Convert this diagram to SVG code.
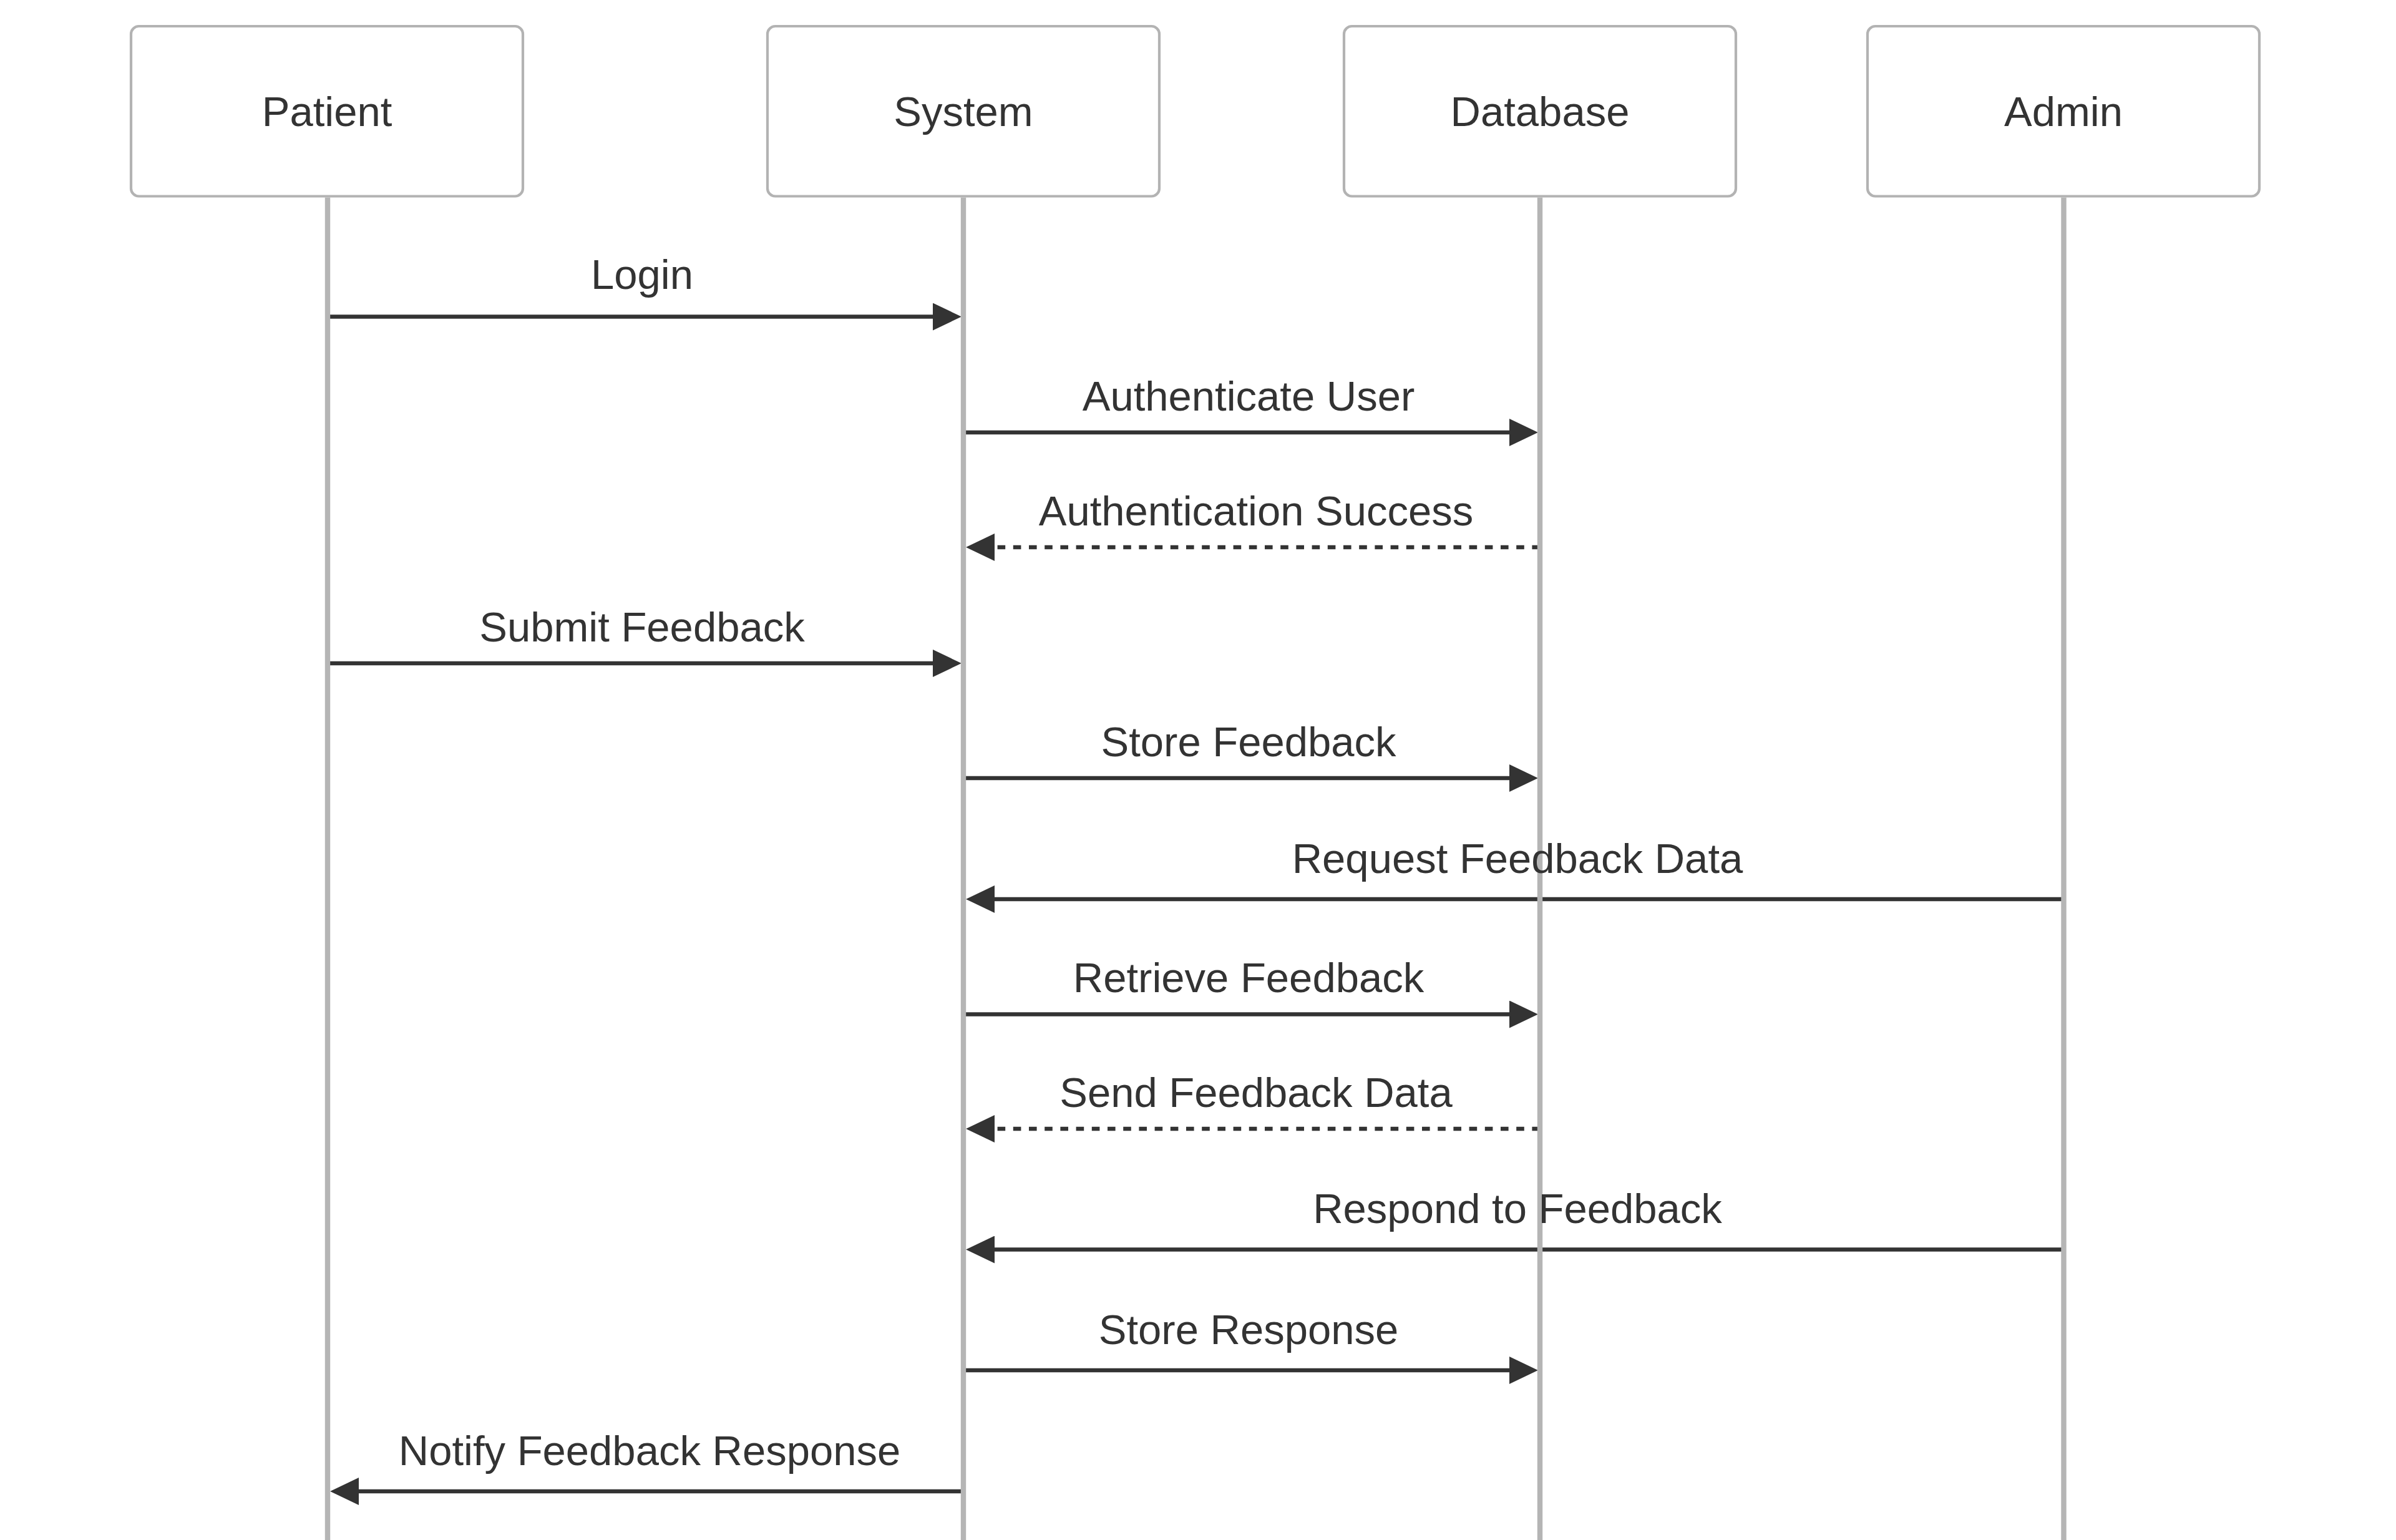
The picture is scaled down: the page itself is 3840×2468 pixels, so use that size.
<svg xmlns="http://www.w3.org/2000/svg" width="3840" height="2468" viewBox="0 0 3840 2468">
<style>
.actor rect{fill:#fff;stroke:#b3b3b3;stroke-width:4.2}
.actor text,.labels text{font-family:"Liberation Sans",Arial,Helvetica,sans-serif;font-size:67px;fill:#333;text-anchor:middle}
.actor text{dominant-baseline:central}
.life{stroke:#b5b5b5;stroke-width:8.4}
.msg{stroke:#333;stroke-width:6.3;marker-end:url(#ah)}
.dash{stroke-dasharray:12.6 12.6}
</style>
<defs>
<marker id="ah" viewBox="0 0 10 10" refX="7.9" refY="5" markerUnits="userSpaceOnUse" markerWidth="46" markerHeight="44" preserveAspectRatio="none" orient="auto">
<path d="M0 0 L10 5 L0 10 z" fill="#333"/>
</marker>
</defs>
<rect width="3840" height="2468" fill="#fff"/>
<g id="actors">
<g id="patient" class="actor"><rect x="210" y="42" width="628" height="272.5" rx="12.6"/><text x="524" y="178">Patient</text></g>
<g id="system" class="actor"><rect x="1230" y="42" width="628" height="272.5" rx="12.6"/><text x="1544" y="178">System</text></g>
<g id="database" class="actor"><rect x="2154" y="42" width="628" height="272.5" rx="12.6"/><text x="2468" y="178">Database</text></g>
<g id="admin" class="actor"><rect x="2993" y="42" width="628" height="272.5" rx="12.6"/><text x="3307" y="178">Admin</text></g>
</g>
<g id="connectors">
<line id="m1" class="msg" x1="525" y1="507.5" x2="1531.3" y2="507.5"/>
<line id="m2" class="msg" x1="1544" y1="693" x2="2455.3" y2="693"/>
<line id="m3" class="msg dash" x1="2468" y1="877" x2="1557.7" y2="877"/>
<line id="m4" class="msg" x1="525" y1="1063" x2="1531.3" y2="1063"/>
<line id="m5" class="msg" x1="1544" y1="1247" x2="2455.3" y2="1247"/>
<line id="m6" class="msg" x1="3307.5" y1="1441" x2="1557.7" y2="1441"/>
<line id="m7" class="msg" x1="1544" y1="1625.5" x2="2455.3" y2="1625.5"/>
<line id="m8" class="msg dash" x1="2468" y1="1809" x2="1557.7" y2="1809"/>
<line id="m9" class="msg" x1="3307.5" y1="2002.5" x2="1557.7" y2="2002.5"/>
<line id="m10" class="msg" x1="1544" y1="2196" x2="2455.3" y2="2196"/>
<line id="m11" class="msg" x1="1544" y1="2390" x2="538.7" y2="2390"/>
</g>
<g id="lifelines">
<line class="life" x1="525" y1="316.6" x2="525" y2="2468"/>
<line class="life" x1="1544" y1="316.6" x2="1544" y2="2468"/>
<line class="life" x1="2468" y1="316.6" x2="2468" y2="2468"/>
<line class="life" x1="3307.5" y1="316.6" x2="3307.5" y2="2468"/>
</g>
<g id="labels" class="labels">
<text x="1029" y="463">Login</text>
<text x="2001" y="658">Authenticate User</text>
<text x="2013" y="842">Authentication Success</text>
<text x="1029" y="1028">Submit Feedback</text>
<text x="2001" y="1212">Store Feedback</text>
<text x="2432" y="1399">Request Feedback Data</text>
<text x="2001" y="1590">Retrieve Feedback</text>
<text x="2013" y="1774">Send Feedback Data</text>
<text x="2432" y="1960">Respond to Feedback</text>
<text x="2001" y="2154">Store Response</text>
<text x="1041" y="2348">Notify Feedback Response</text>
</g>
</svg>
